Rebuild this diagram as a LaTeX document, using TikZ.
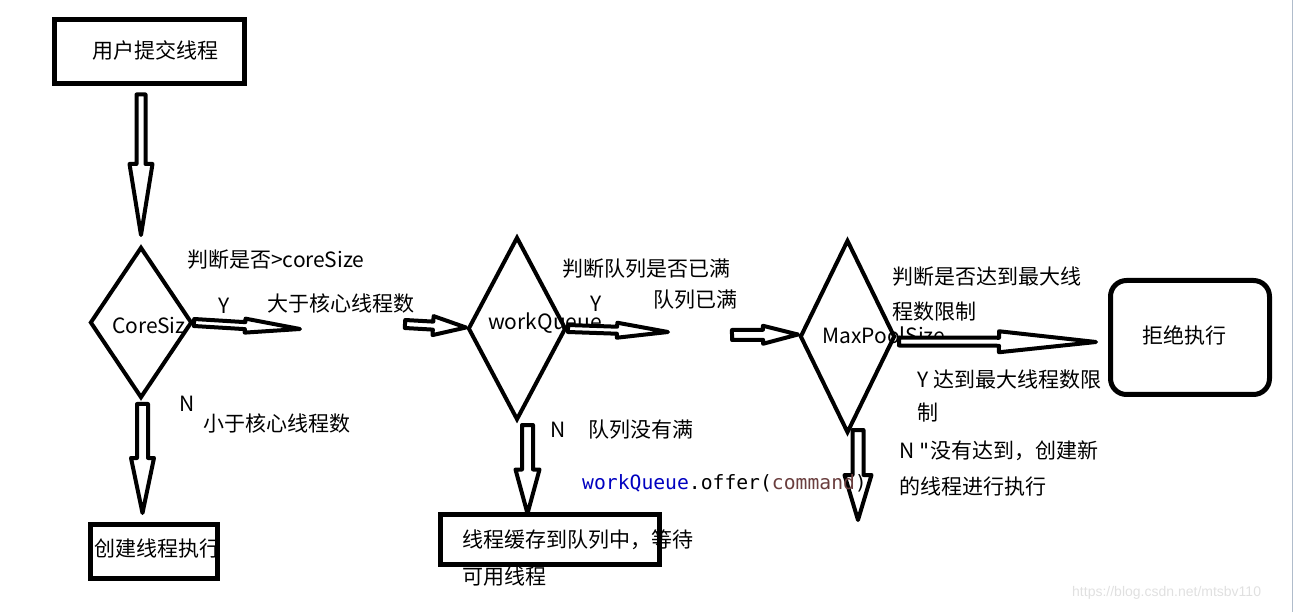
\documentclass[tikz,border=0pt]{standalone}
\usepackage{fontspec}
\setmainfont{Noto Sans CJK SC}
\setmonofont{DejaVu Sans Mono}
\newfontfamily\urlfont{Liberation Sans}
\usepackage{tikz}
\usetikzlibrary{shapes,calc,positioning}
\definecolor{codeblue}{RGB}{0,0,192}
\definecolor{codebrown}{RGB}{106,62,62}
\definecolor{rimgrey}{RGB}{176,188,203}

% hollow block arrow: from, to, shaft half width, head half width, head length
\newcommand{\hollowarrow}[5]{%
  \coordinate (ha) at (#1);
  \coordinate (hb) at (#2);
  \coordinate (hh) at ($(hb)!#5!(ha)$);
  \draw[hollow] ($(ha)!#3!90:(hb)$) -- ($(hh)!#3!90:(hb)$) -- ($(hh)!#4!90:(hb)$) -- (hb)
    -- ($(hh)!#4!-90:(hb)$) -- ($(hh)!#3!-90:(hb)$) -- ($(ha)!#3!-90:(hb)$) -- cycle;
}

\tikzset{
  box/.style={draw, line width=5pt, inner sep=0pt},
  decision/.style={draw, diamond, line width=4pt, inner sep=0pt},
  hollow/.style={draw, fill=white, line width=4pt, line join=round},
  txt/.style={anchor=west, inner sep=0pt},
}

\begin{document}
\begin{tikzpicture}[x=1pt, y=-1pt, every node/.style={font=\fontsize{21}{25}\selectfont}]
  \useasboundingbox (0,0) rectangle (1294,612);
  \draw[rimgrey, line width=1.5pt] (1292.5,0) -- (1292.5,612);

  % thread pool submit flow
  \node[box, minimum width=190, minimum height=64] (user) at (149,52) {};
  \node[decision, minimum width=102, minimum height=151] (d1) at (141,322.5) {};
  \node[decision, minimum width=98, minimum height=183] (d2) at (517,328.5) {};
  \node[decision, minimum width=95, minimum height=193] (d3) at (847.5,336.5) {};
  \node[box, minimum width=127, minimum height=54] (create) at (154,551.5) {};
  \node[box, minimum width=219, minimum height=50] (cache) at (550,539.5) {};
  \node[box, rounded corners=16pt, minimum width=159, minimum height=114] (reject) at (1190,337.5) {};

  \node[txt] (usertxt) at (92,50) {用户提交线程};
  \node[txt] (createtxt) at (94,549) {创建线程执行};
  \node[txt] (rejecttxt) at (1142,335) {拒绝执行};

  \node[txt] (d1txt) at (112,326) {CoreSiz};
  \node[txt] (d2txt) at (488,323) {workQueue};
  \node[txt] (d3txt) at (822,335) {MaxPoolSize};

  \node[txt] (q1) at (187,260) {判断是否>coreSize};
  \node[txt] (y1) at (218,306) {Y};
  \node[txt] (y1txt) at (267,304) {大于核心线程数};
  \node[txt] (n1) at (179,404) {N};
  \node[txt] (n1txt) at (203,424) {小于核心线程数};

  \node[txt] (q2) at (562,269) {判断队列是否已满};
  \node[txt] (y2) at (590,304) {Y};
  \node[txt] (y2txt) at (653,300) {队列已满};
  \node[txt] (n2) at (550,430) {N};
  \node[txt] (n2txt) at (588,430) {队列没有满};
  \node[txt] (cache1) at (462,540) {线程缓存到队列中，等待};
  \node[txt] (cache2) at (462,577) {可用线程};

  \node[txt] (q3a) at (892,277) {判断是否达到最大线};
  \node[txt] (q3b) at (892,312) {程数限制};
  \node[txt] (y3a) at (917,380) {Y 达到最大线程数限};
  \node[txt] (y3b) at (917,413) {制};
  \node[txt] (n3a) at (899,451) {N\,{\ttfamily\char"22}没有达到，创建新};
  \node[txt] (n3b) at (899,487) {的线程进行执行};

  \node[txt, font=\urlfont\fontsize{14}{16}\selectfont, text=black!12] (mark) at (1072,593) {https://blog.csdn.net/mtsbv110};

  \coordinate (y1end) at (300,329);
  \coordinate (d2in) at (405,324);
  \coordinate (y2end) at (668,332);
  \coordinate (d3in) at (732,335);
  \coordinate (d3end) at (858,520);

  \hollowarrow{$(user.south -| d1.north)+(0,8)$}{$(d1.north)+(0,-10)$}{4.5pt}{11.5pt}{71pt}
  \hollowarrow{$(d1.south)+(1.5,4)$}{$(create.north -| d1.south)+(1.5,-9)$}{5.5pt}{11.5pt}{55pt}
  \hollowarrow{d1.east}{y1end}{3.5pt}{7pt}{55pt}
  \hollowarrow{d2in}{$(d2.west)+(0,-1)$}{4pt}{9.5pt}{33pt}
  \hollowarrow{d2.east}{y2end}{3.5pt}{7.5pt}{51pt}
  \hollowarrow{d3in}{$(d3.west)+(0,-2)$}{5pt}{9pt}{35pt}
  \hollowarrow{$(d3.east)+(2,5)$}{$(reject.west)+(-12,4.5)$}{4pt}{10.5pt}{97pt}
  \hollowarrow{$(d2.south)+(10.5,3)$}{$(cache.north -| d2.south)+(10.5,1.5)$}{5.5pt}{12pt}{44pt}
  \hollowarrow{$(d3.south)+(10.5,-5)$}{d3end}{5.5pt}{13.5pt}{45pt}

  \node[txt] (code) at (582,483) {\ttfamily\fontsize{19.7}{24}\selectfont\textcolor{codeblue}{workQueue}.offer(\textcolor{codebrown}{command})};
\end{tikzpicture}
\end{document}
